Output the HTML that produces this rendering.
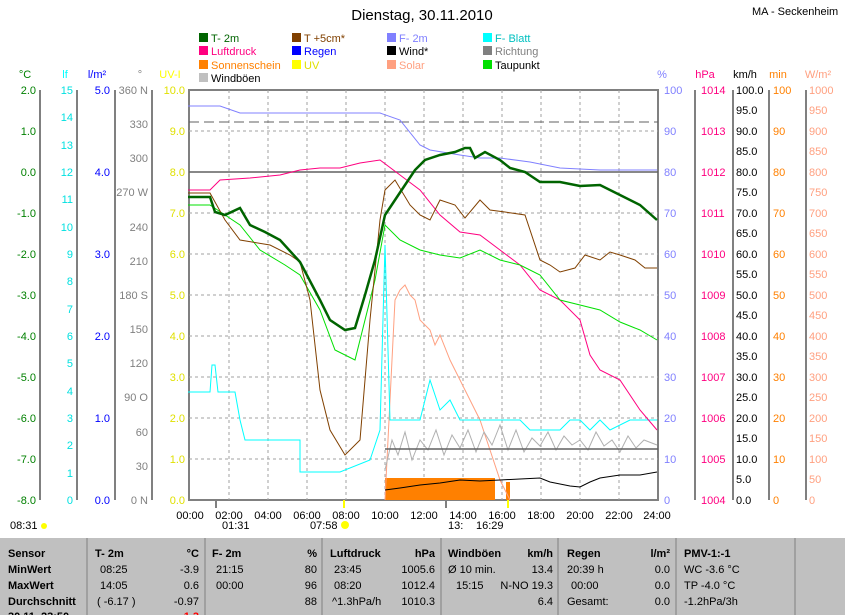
<!DOCTYPE html><html><head><meta charset="utf-8"><style>
body{margin:0;background:#fff;}
svg{display:block;font-family:"Liberation Sans",sans-serif;}
</style></head><body>
<svg width="845" height="615" viewBox="0 0 845 615" xmlns="http://www.w3.org/2000/svg">
<rect width="845" height="615" fill="#fff"/>
<text x="422" y="20" font-size="15" text-anchor="middle">Dienstag, 30.11.2010</text>
<text x="752" y="15" font-size="11">MA - Seckenheim</text>
<g font-size="11">
<rect x="199" y="33" width="9" height="9" fill="#006400"/><text x="211" y="42" fill="#006400">T- 2m</text>
<rect x="292" y="33" width="9" height="9" fill="#804000"/><text x="304" y="42" fill="#804000">T +5cm*</text>
<rect x="387" y="33" width="9" height="9" fill="#8080ff"/><text x="399" y="42" fill="#8080ff">F- 2m</text>
<rect x="483" y="33" width="9" height="9" fill="#00ffff"/><text x="495" y="42" fill="#00c0c0">F- Blatt</text>
<rect x="199" y="46" width="9" height="9" fill="#ff0080"/><text x="211" y="55" fill="#ff0080">Luftdruck</text>
<rect x="292" y="46" width="9" height="9" fill="#0000ff"/><text x="304" y="55" fill="#0000ff">Regen</text>
<rect x="387" y="46" width="9" height="9" fill="#000"/><text x="399" y="55">Wind*</text>
<rect x="483" y="46" width="9" height="9" fill="#808080"/><text x="495" y="55" fill="#808080">Richtung</text>
<rect x="199" y="60" width="9" height="9" fill="#ff8000"/><text x="211" y="69" fill="#ff8000">Sonnenschein</text>
<rect x="292" y="60" width="9" height="9" fill="#ffff00"/><text x="304" y="69" fill="#e0e000">UV</text>
<rect x="387" y="60" width="9" height="9" fill="#ffa080"/><text x="399" y="69" fill="#ffa080">Solar</text>
<rect x="483" y="60" width="9" height="9" fill="#00e000"/><text x="495" y="69">Taupunkt</text>
<rect x="199" y="73" width="9" height="9" fill="#c0c0c0"/><text x="211" y="82">Windböen</text>
</g>
<g font-size="11" text-anchor="middle">
<text x="25" y="78" fill="#008000">°C</text><text x="65" y="78" fill="#00ffff">lf</text><text x="97" y="78" fill="#0000ff">l/m²</text><text x="140" y="78" fill="#808080">°</text><text x="170" y="78" fill="#ffff00">UV-I</text>
<text x="662" y="78" fill="#8080ff">%</text><text x="705" y="78" fill="#ff0080">hPa</text><text x="745" y="78">km/h</text><text x="778" y="78" fill="#ff8000">min</text><text x="818" y="78" fill="#ffa080">W/m²</text>
</g>
<g stroke="#808080" stroke-width="2">
<line x1="40" y1="90" x2="40" y2="500"/><line x1="77" y1="90" x2="77" y2="500"/><line x1="115" y1="90" x2="115" y2="500"/><line x1="152" y1="90" x2="152" y2="500"/>
<line x1="695" y1="90" x2="695" y2="500"/><line x1="733" y1="90" x2="733" y2="500"/><line x1="769" y1="90" x2="769" y2="500"/><line x1="806" y1="90" x2="806" y2="500"/>
</g>
<rect x="189" y="90" width="469" height="410" fill="none" stroke="#808080" stroke-width="2"/>
<g stroke="#a0a0a0" stroke-dasharray="3,3" stroke-width="1">
<line x1="189" y1="131" x2="658" y2="131"/><line x1="189" y1="172" x2="658" y2="172"/><line x1="189" y1="213" x2="658" y2="213"/><line x1="189" y1="254" x2="658" y2="254"/><line x1="189" y1="295" x2="658" y2="295"/><line x1="189" y1="336" x2="658" y2="336"/><line x1="189" y1="377" x2="658" y2="377"/><line x1="189" y1="418" x2="658" y2="418"/><line x1="189" y1="459" x2="658" y2="459"/>
<line x1="229" y1="90" x2="229" y2="500"/><line x1="268" y1="90" x2="268" y2="500"/><line x1="307" y1="90" x2="307" y2="500"/><line x1="346" y1="90" x2="346" y2="500"/><line x1="385" y1="90" x2="385" y2="500"/><line x1="424" y1="90" x2="424" y2="500"/><line x1="463" y1="90" x2="463" y2="500"/><line x1="502" y1="90" x2="502" y2="500"/><line x1="541" y1="90" x2="541" y2="500"/><line x1="580" y1="90" x2="580" y2="500"/><line x1="619" y1="90" x2="619" y2="500"/>
</g>
<g font-size="11" text-anchor="end">
<g fill="#008000"><text x="36" y="94">2.0</text><text x="36" y="135">1.0</text><text x="36" y="176">0.0</text><text x="36" y="217">-1.0</text><text x="36" y="258">-2.0</text><text x="36" y="299">-3.0</text><text x="36" y="340">-4.0</text><text x="36" y="381">-5.0</text><text x="36" y="422">-6.0</text><text x="36" y="463">-7.0</text><text x="36" y="504">-8.0</text></g>
<g fill="#00e0e0"><text x="73" y="94">15</text><text x="73" y="121">14</text><text x="73" y="149">13</text><text x="73" y="176">12</text><text x="73" y="203">11</text><text x="73" y="231">10</text><text x="73" y="258">9</text><text x="73" y="285">8</text><text x="73" y="313">7</text><text x="73" y="340">6</text><text x="73" y="367">5</text><text x="73" y="395">4</text><text x="73" y="422">3</text><text x="73" y="449">2</text><text x="73" y="477">1</text><text x="73" y="504">0</text></g>
<g fill="#0000ff"><text x="110" y="94">5.0</text><text x="110" y="176">4.0</text><text x="110" y="258">3.0</text><text x="110" y="340">2.0</text><text x="110" y="422">1.0</text><text x="110" y="504">0.0</text></g>
<g fill="#808080"><text x="148" y="94">360 N</text><text x="148" y="128">330</text><text x="148" y="162">300</text><text x="148" y="196">270 W</text><text x="148" y="231">240</text><text x="148" y="265">210</text><text x="148" y="299">180 S</text><text x="148" y="333">150</text><text x="148" y="367">120</text><text x="148" y="401">90 O</text><text x="148" y="436">60</text><text x="148" y="470">30</text><text x="148" y="504">0 N</text></g>
<g fill="#e0e000"><text x="185" y="94">10.0</text><text x="185" y="135">9.0</text><text x="185" y="176">8.0</text><text x="185" y="217">7.0</text><text x="185" y="258">6.0</text><text x="185" y="299">5.0</text><text x="185" y="340">4.0</text><text x="185" y="381">3.0</text><text x="185" y="422">2.0</text><text x="185" y="463">1.0</text><text x="185" y="504">0.0</text></g>
</g>
<g font-size="11">
<g fill="#8080ff"><text x="664" y="94">100</text><text x="664" y="135">90</text><text x="664" y="176">80</text><text x="664" y="217">70</text><text x="664" y="258">60</text><text x="664" y="299">50</text><text x="664" y="340">40</text><text x="664" y="381">30</text><text x="664" y="422">20</text><text x="664" y="463">10</text><text x="664" y="504">0</text></g>
<g fill="#ff0080"><text x="701" y="94">1014</text><text x="701" y="135">1013</text><text x="701" y="176">1012</text><text x="701" y="217">1011</text><text x="701" y="258">1010</text><text x="701" y="299">1009</text><text x="701" y="340">1008</text><text x="701" y="381">1007</text><text x="701" y="422">1006</text><text x="701" y="463">1005</text><text x="701" y="504">1004</text></g>
<g><text x="736" y="94">100.0</text><text x="736" y="114">95.0</text><text x="736" y="135">90.0</text><text x="736" y="155">85.0</text><text x="736" y="176">80.0</text><text x="736" y="196">75.0</text><text x="736" y="217">70.0</text><text x="736" y="237">65.0</text><text x="736" y="258">60.0</text><text x="736" y="278">55.0</text><text x="736" y="299">50.0</text><text x="736" y="319">45.0</text><text x="736" y="340">40.0</text><text x="736" y="360">35.0</text><text x="736" y="381">30.0</text><text x="736" y="401">25.0</text><text x="736" y="422">20.0</text><text x="736" y="442">15.0</text><text x="736" y="463">10.0</text><text x="736" y="483">5.0</text><text x="736" y="504">0.0</text></g>
<g fill="#ff8000"><text x="773" y="94">100</text><text x="773" y="135">90</text><text x="773" y="176">80</text><text x="773" y="217">70</text><text x="773" y="258">60</text><text x="773" y="299">50</text><text x="773" y="340">40</text><text x="773" y="381">30</text><text x="773" y="422">20</text><text x="773" y="463">10</text><text x="773" y="504">0</text></g>
<g fill="#ffa080"><text x="809" y="94">1000</text><text x="809" y="114">950</text><text x="809" y="135">900</text><text x="809" y="155">850</text><text x="809" y="176">800</text><text x="809" y="196">750</text><text x="809" y="217">700</text><text x="809" y="237">650</text><text x="809" y="258">600</text><text x="809" y="278">550</text><text x="809" y="299">500</text><text x="809" y="319">450</text><text x="809" y="340">400</text><text x="809" y="360">350</text><text x="809" y="381">300</text><text x="809" y="401">250</text><text x="809" y="422">200</text><text x="809" y="442">150</text><text x="809" y="463">100</text><text x="809" y="483">50</text><text x="809" y="504">0</text></g>
</g>
<line x1="189" y1="122" x2="658" y2="122" stroke="#606060" stroke-dasharray="10,5"/>
<line x1="189" y1="172" x2="658" y2="172" stroke="#606060" stroke-width="1.5"/>
<rect x="385" y="478" width="110" height="22" fill="#ff8000"/>
<rect x="506" y="482" width="4" height="18" fill="#ff8000"/>
<polyline fill="none" stroke="#ffa080" points="385,500 390,400 395,300 400,290 405,285 410,295 415,300 420,320 430,330 435,345 440,335 450,360 460,380 470,400 480,420 490,450 500,480 510,500"/>
<polyline fill="none" stroke="#b0b0b0" points="385,470 392,440 398,455 405,432 412,460 420,440 428,450 436,430 444,455 452,435 460,448 468,430 476,452 484,432 492,445 500,425 508,450 516,430 524,452 532,438 540,446 548,432 556,450 564,436 572,445 580,440 588,450 596,432 604,446 612,440 620,452 628,436 636,448 644,440 657,445"/>
<line x1="385" y1="449" x2="658" y2="449" stroke="#606060" stroke-width="1.5"/>
<polyline fill="none" stroke="#000" points="385,490 400,488 420,485 440,483 460,480 480,481 500,480 520,479 540,478 550,482 560,484 570,486 580,487 590,482 600,478 620,475 640,475 657,472"/>
<polyline fill="none" stroke="#00ffff" points="188,392 210,392 212,365 215,365 218,392 235,392 240,420 245,440 300,440 300,472 340,472 370,460 380,430 385,245 390,420 420,420 430,380 440,410 450,400 460,420 520,420 530,430 560,430 570,420 580,420 590,430 600,420 610,430 630,420 657,420"/>
<polyline fill="none" stroke="#8080ff" points="188,106 220,106 240,113 380,113 400,120 420,145 430,150 460,155 480,158 500,158 530,162 560,168 600,170 657,170"/>
<polyline fill="none" stroke="#ff0080" points="188,190 210,190 220,180 250,178 280,175 300,170 320,168 340,168 360,163 380,160 400,175 420,190 440,215 460,232 480,235 500,250 520,265 540,290 560,300 580,320 590,355 600,370 620,380 640,410 657,430"/>
<polyline fill="none" stroke="#00e000" points="188,205 210,205 240,225 260,250 285,265 300,275 320,310 335,350 355,360 375,280 385,225 400,240 420,250 440,255 460,258 480,250 500,260 520,265 540,275 560,300 580,305 600,310 620,322 640,330 657,340"/>
<polyline fill="none" stroke="#804000" points="188,193 210,193 225,220 240,240 270,245 290,255 300,262 310,300 320,390 330,430 345,455 360,440 370,320 380,220 385,190 395,180 410,205 420,215 430,220 440,200 455,205 465,218 480,200 490,210 505,212 525,215 540,260 550,265 560,272 575,268 585,255 600,260 610,252 620,255 635,260 645,268 657,268"/>
<polyline fill="none" stroke="#006400" stroke-width="2.5" points="188,197 210,197 215,212 225,215 240,208 250,225 265,232 280,240 300,262 320,300 330,320 345,330 355,328 365,295 375,260 385,215 395,200 405,185 415,170 425,160 440,155 455,152 465,148 470,148 475,158 485,152 500,160 510,168 525,172 540,182 560,182 580,186 600,185 620,195 640,205 657,220"/>
<g stroke="#808080" stroke-width="2"><line x1="216" y1="500" x2="216" y2="508"/><line x1="446" y1="500" x2="446" y2="508"/></g>
<g stroke="#ffff00" stroke-width="2"><line x1="344" y1="500" x2="344" y2="508"/><line x1="508" y1="500" x2="508" y2="508"/></g>
<g font-size="11" text-anchor="middle"><text x="190" y="519">00:00</text><text x="229" y="519">02:00</text><text x="268" y="519">04:00</text><text x="307" y="519">06:00</text><text x="346" y="519">08:00</text><text x="385" y="519">10:00</text><text x="424" y="519">12:00</text><text x="463" y="519">14:00</text><text x="502" y="519">16:00</text><text x="541" y="519">18:00</text><text x="580" y="519">20:00</text><text x="619" y="519">22:00</text><text x="657" y="519">24:00</text></g>
<g font-size="11"><text x="10" y="529">08:31</text><circle cx="44" cy="526" r="3" fill="#ffff00"/><text x="222" y="529">01:31</text><text x="310" y="529">07:58</text><circle cx="345" cy="525" r="4" fill="#ffff00"/><text x="448" y="529">13:</text><text x="476" y="529">16:29</text></g>
<rect x="0" y="538" width="845" height="77" fill="#c0c0c0"/>
<g stroke="#a0a0a0" stroke-width="2"><line x1="87" y1="538" x2="87" y2="615"/><line x1="205" y1="538" x2="205" y2="615"/><line x1="322" y1="538" x2="322" y2="615"/><line x1="441" y1="538" x2="441" y2="615"/><line x1="558" y1="538" x2="558" y2="615"/><line x1="676" y1="538" x2="676" y2="615"/><line x1="795" y1="538" x2="795" y2="615"/></g>
<g font-size="11">
<g font-weight="bold"><text x="8" y="557">Sensor</text><text x="8" y="573">MinWert</text><text x="8" y="589">MaxWert</text><text x="8" y="605">Durchschnitt</text><text x="8" y="620">30.11. 23:50</text>
<text x="95" y="557">T- 2m</text><text x="212" y="557">F- 2m</text><text x="330" y="557">Luftdruck</text><text x="448" y="557">Windböen</text><text x="567" y="557">Regen</text><text x="684" y="557">PMV-1:-1</text></g>
<g font-weight="bold" text-anchor="end"><text x="199" y="557">°C</text><text x="317" y="557">%</text><text x="435" y="557">hPa</text><text x="553" y="557">km/h</text><text x="670" y="557">l/m²</text></g>
<text x="100" y="573">08:25</text><text x="100" y="589">14:05</text><text x="97" y="605">( -6.17 )</text>
<text x="216" y="573">21:15</text><text x="216" y="589">00:00</text>
<text x="334" y="573">23:45</text><text x="334" y="589">08:20</text><text x="332" y="605">^1.3hPa/h</text>
<text x="448" y="573">Ø 10 min.</text><text x="456" y="589">15:15</text>
<text x="567" y="573">20:39 h</text><text x="571" y="589">00:00</text><text x="567" y="605">Gesamt:</text>
<text x="684" y="573">WC -3.6 °C</text><text x="684" y="589">TP -4.0 °C</text><text x="684" y="605">-1.2hPa/3h</text>
<g text-anchor="end"><text x="199" y="573">-3.9</text><text x="199" y="589">0.6</text><text x="199" y="605">-0.97</text><text x="199" y="620" fill="#ff0000" font-weight="bold">-1.3</text>
<text x="317" y="573">80</text><text x="317" y="589">96</text><text x="317" y="605">88</text>
<text x="435" y="573">1005.6</text><text x="435" y="589">1012.4</text><text x="435" y="605">1010.3</text>
<text x="553" y="573">13.4</text><text x="553" y="589">N-NO 19.3</text><text x="553" y="605">6.4</text>
<text x="670" y="573">0.0</text><text x="670" y="589">0.0</text><text x="670" y="605">0.0</text></g>
</g>
</svg>
</body></html>
